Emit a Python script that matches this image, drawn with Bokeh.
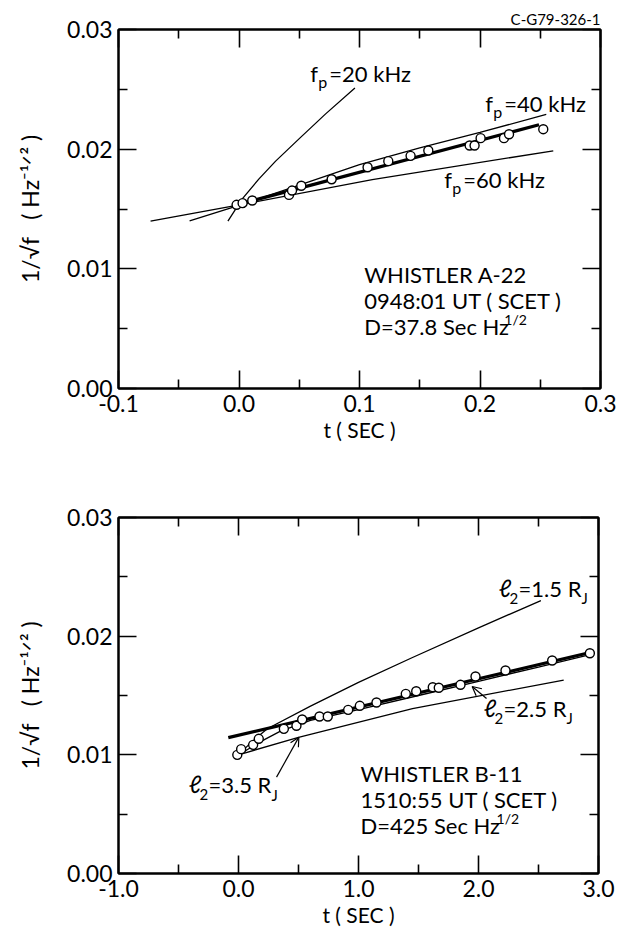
from bokeh.plotting import figure
from bokeh.models import (Range1d, FixedTicker, PrintfTickFormatter, LinearAxis,
                          Label, Arrow, OpenHead, CustomJSTickFormatter)
from bokeh.layouts import column
from bokeh.embed import file_html
from bokeh.resources import INLINE

FONT = "Lato"

# ---------------- Whistler A-22 (upper panel) ----------------
a_t = [-0.002, 0.003, 0.011, 0.0415, 0.044, 0.0517, 0.0769, 0.1067, 0.1239,
       0.1424, 0.1571, 0.1914, 0.1955, 0.2005, 0.2199, 0.2241, 0.2525]
a_v = [0.01535, 0.01549, 0.01571, 0.01618, 0.01654, 0.01694, 0.01749, 0.01849,
       0.01900, 0.01944, 0.01989, 0.02031, 0.02031, 0.02092, 0.02092, 0.02125, 0.02167]
a_fit_t = [-0.004, 0.249]
a_fit_v = [0.01529, 0.02204]
a20_t = [-0.0092, 0.0027, 0.0166, 0.0304, 0.0498, 0.0719, 0.0962]
a20_v = [0.01398, 0.01585, 0.01752, 0.01900, 0.02086, 0.02295, 0.02512]
a40_t = [-0.041, 0.0, 0.05, 0.10, 0.15, 0.20, 0.255]
a40_v = [0.0140, 0.0153, 0.0170, 0.0187, 0.0201, 0.0214, 0.0229]
a60_t = [-0.0734, -0.002, 0.1106, 0.2608]
a60_v = [0.01398, 0.01530, 0.01746, 0.01986]
a_xticks = [-0.1, 0.0, 0.1, 0.2, 0.3]
a_xminor = [-0.05, 0.05, 0.15, 0.25]

# ---------------- Whistler B-11 (lower panel) ----------------
b_t = [-0.01, 0.022, 0.122, 0.169, 0.378, 0.483, 0.531, 0.675, 0.744, 0.914, 1.011,
       1.15, 1.394, 1.481, 1.619, 1.669, 1.85, 1.975, 2.225, 2.614, 2.928]
b_v = [0.0100, 0.01048, 0.01084, 0.01135, 0.01219, 0.01245, 0.01298, 0.01323, 0.01323,
       0.01379, 0.01413, 0.01441, 0.01514, 0.01536, 0.01570, 0.01565, 0.0159, 0.0166,
       0.01711, 0.01795, 0.01856]
b_fit_t = [-0.085, 2.93]
b_fit_v = [0.01145, 0.01862]
b15_t = [0.0, 0.08, 0.17, 0.24, 0.6, 1.0, 1.45, 2.0, 2.52]
b15_v = [0.0100, 0.0108, 0.0116, 0.0122, 0.0141, 0.0161, 0.0182, 0.0207, 0.0230]
b25_t = [0.0, 0.1, 0.2, 0.35, 0.6, 1.0, 1.5, 2.0, 2.5, 2.93]
b25_v = [0.0100, 0.0106, 0.0112, 0.0120, 0.0129, 0.0138, 0.0150, 0.0162, 0.0174, 0.01845]
b35_t = [0.0, 0.5, 1.45, 2.71]
b35_v = [0.0100, 0.01148, 0.0139, 0.0163]
b_xticks = [-1.0, 0.0, 1.0, 2.0, 3.0]
b_xminor = [-0.5, 0.5, 1.5, 2.5]

y_ticks = [0.0, 0.01, 0.02, 0.03]
y_minor = [0.005, 0.015, 0.025]
NB = "\u00a0"
y_title = "1/√f" + NB * 3 + "(" + NB + "Hz⁻¹ᐟ²" + NB + ")"
x_title = "t ( SEC )"
figure_id = "C-G79-326-1"

BLANK = CustomJSTickFormatter(code="return ''")


def style_axis(ax, ticker, fmt, labels):
    ax.ticker = ticker
    ax.major_tick_in = 18
    ax.major_tick_out = 0
    ax.minor_tick_in = 9
    ax.minor_tick_out = 0
    ax.axis_line_width = 2
    ax.axis_line_color = "black"
    ax.major_tick_line_width = 1.6
    ax.minor_tick_line_width = 1.6
    ax.major_tick_line_color = "black"
    ax.minor_tick_line_color = "black"
    ax.major_label_text_font = FONT
    ax.major_label_text_color = "black"
    ax.axis_label_text_color = "black"
    ax.axis_label_text_font = FONT
    ax.axis_label_text_font_style = "normal"
    if labels:
        ax.formatter = PrintfTickFormatter(format=fmt)
        ax.major_label_text_font_size = "23px"
        ax.major_label_standoff = 6
    else:
        ax.formatter = BLANK
        ax.major_label_text_font_size = "1px"
        ax.major_label_standoff = 0


def make_fig(xr, xticks, xminor, fw, fh, left, right, top, bottom):
    p = figure(frame_width=fw, frame_height=fh, x_range=Range1d(*xr),
               y_range=Range1d(0, 0.03), output_backend="svg", toolbar_location=None,
               min_border_left=left, min_border_right=right, min_border_top=top,
               min_border_bottom=bottom, x_axis_type=None, y_axis_type=None)
    p.outline_line_color = "black"
    p.outline_line_width = 2
    p.background_fill_color = "white"
    p.border_fill_color = "white"
    xt = FixedTicker(ticks=xticks, minor_ticks=xminor)
    yt = FixedTicker(ticks=y_ticks, minor_ticks=y_minor)
    xb = LinearAxis()
    style_axis(xb, xt, "%.1f", True)
    xb.axis_label = x_title
    xb.axis_label_text_font_size = "21px"
    xb.axis_label_standoff = 2
    xa = LinearAxis()
    style_axis(xa, xt, "%.1f", False)
    yl = LinearAxis()
    style_axis(yl, yt, "%.2f", True)
    yl.axis_label = y_title
    yl.axis_label_text_font_size = "23px"
    yl.axis_label_standoff = 20
    yr = LinearAxis()
    style_axis(yr, yt, "%.2f", False)
    p.add_layout(xb, "below")
    p.add_layout(xa, "above")
    p.add_layout(yl, "left")
    p.add_layout(yr, "right")
    return p


def txt(p, x, y, text, size=22, dx=0, dy=0, align="left"):
    # small upward correction so the alphabetic baseline lands where it is read
    lift = round(0.42 * size)
    p.add_layout(Label(x=x, y=y, x_offset=dx, y_offset=dy + lift, text=text,
                       text_font=FONT, text_font_size=f"{size}px", text_align=align,
                       text_baseline="alphabetic", text_color="black"))


# ---------------- upper figure ----------------
p1 = make_fig((-0.1, 0.3), a_xticks, a_xminor, 482, 359, 116, 20, 29, 70)
p1.title.text = figure_id
p1.title.align = "right"
p1.title.text_font = FONT
p1.title.text_font_size = "15px"
p1.title.text_font_style = "normal"
p1.title.text_color = "black"
p1.title.standoff = 3

for tt, vv in ((a20_t, a20_v), (a40_t, a40_v), (a60_t, a60_v)):
    p1.line(tt, vv, line_color="black", line_width=1.3)
p1.line(a_fit_t, a_fit_v, line_color="black", line_width=3.2)
p1.scatter(a_t, a_v, marker="circle", size=9, fill_color="white",
           line_color="black", line_width=1.4)

for (x0, y0, num) in ((0.0592, 0.02557, "=20 kHz"), (0.2044, 0.02306, "=40 kHz"),
                      (0.1704, 0.01671, "=60 kHz")):
    txt(p1, x0, y0, "f")
    txt(p1, x0, y0, "p", size=16, dx=8, dy=-6)
    txt(p1, x0, y0, num, dx=19)
txt(p1, 0.104, 0.00844, "WHISTLER A-22", dy=4)
txt(p1, 0.104, 0.00627, "0948:01 UT ( SCET )", dy=4)
txt(p1, 0.104, 0.00410, "D=37.8 Sec Hz", dy=4)
txt(p1, 0.104, 0.00410, "1/2", size=14, dx=140, dy=14)

# ---------------- lower figure ----------------
p2 = make_fig((-1.0, 3.0), b_xticks, b_xminor, 480, 356, 118, 20, 59, 57)

for tt, vv in ((b15_t, b15_v), (b25_t, b25_v), (b35_t, b35_v)):
    p2.line(tt, vv, line_color="black", line_width=1.3)
p2.line(b_fit_t, b_fit_v, line_color="black", line_width=3.2)
p2.scatter(b_t, b_v, marker="circle", size=9, fill_color="white",
           line_color="black", line_width=1.4)

for (x0, y0, num) in ((2.167, 0.02326, "=1.5 R"), (2.042, 0.01315, "=2.5 R"),
                      (-0.417, 0.00674, "=3.5 R")):
    txt(p2, x0, y0, "ℓ", size=24)
    txt(p2, x0, y0, "2", size=15, dx=11, dy=-7)
    txt(p2, x0, y0, num, dx=20)
    txt(p2, x0, y0, "J", size=15, dx=83, dy=-7)

p2.add_layout(Arrow(end=OpenHead(size=9, line_width=1.2), x_start=2.067, y_start=0.01475,
                    x_end=1.947, y_end=0.01576, line_width=1.2))
p2.add_layout(Arrow(end=OpenHead(size=9, line_width=1.2), x_start=0.317, y_start=0.00812,
                    x_end=0.503, y_end=0.01149, line_width=1.2))

txt(p2, 1.017, 0.00767, "WHISTLER B-11")
txt(p2, 1.017, 0.00548, "1510:55 UT ( SCET )")
txt(p2, 1.017, 0.00329, "D=425 Sec Hz")
txt(p2, 1.017, 0.00329, "1/2", size=14, dx=136, dy=10)

layout = column(p1, p2)
open("out.html", "w").write(file_html(layout, INLINE))
